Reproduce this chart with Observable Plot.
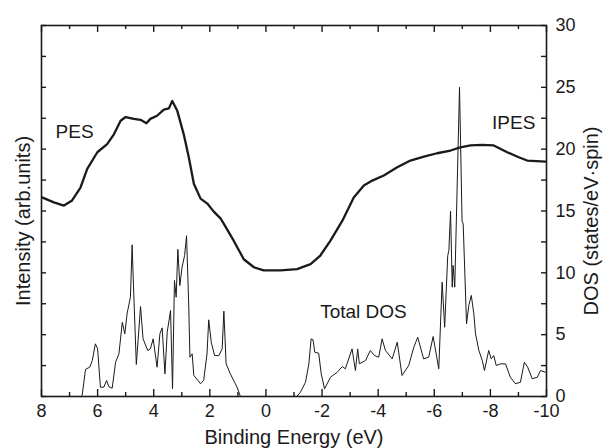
<!DOCTYPE html>
<html>
<head>
<meta charset="utf-8">
<script src="https://cdn.jsdelivr.net/npm/d3@7"></script>
<script src="https://cdn.jsdelivr.net/npm/@observablehq/plot@0.6"></script>
<style>
  html, body { margin: 0; padding: 0; background: #fff; }
  #chart { width: 603px; height: 448px; }
</style>
</head>
<body>
<div id="chart"></div>
<script>
// ---- data ----
const pesEnergy = [7.98, 7.56, 7.2, 6.91, 6.61, 6.37, 6.01, 5.66, 5.42, 5.18, 5.0, 4.71, 4.47, 4.26, 4.12, 3.88, 3.64, 3.46, 3.34, 3.16, 2.93, 2.75, 2.57, 2.33, 2.09, 1.86, 1.62, 1.5, 1.15, 0.79, 0.43, 0.08, -0.52, -1.11, -1.59, -1.94, -2.3, -2.72, -3.13, -3.49, -3.79, -4.2, -4.68, -5.15, -5.63, -6.1, -6.58, -6.93, -7.29, -7.7, -8.12, -8.6, -9.01, -9.31, -9.96];
const pesIntensity = [16.1, 15.7, 15.44, 15.85, 16.9, 18.4, 19.75, 20.4, 21.2, 22.3, 22.6, 22.45, 22.37, 22.1, 22.45, 22.7, 23.2, 23.3, 23.9, 23.1, 21.2, 19.35, 17.2, 16.0, 15.6, 14.95, 14.4, 13.96, 12.6, 11.1, 10.45, 10.2, 10.2, 10.3, 10.7, 11.4, 12.6, 14.2, 16.1, 17.06, 17.46, 17.87, 18.54, 19.08, 19.4, 19.67, 19.89, 20.15, 20.3, 20.35, 20.3, 19.75, 19.35, 19.08, 19.0];

const dosEnergy = [6.6, 6.55, 6.43, 6.28, 6.19, 6.08, 6.0, 5.9, 5.78, 5.68, 5.6, 5.48, 5.36, 5.24, 5.12, 5.03, 4.95, 4.83, 4.77, 4.72, 4.62, 4.47, 4.38, 4.21, 4.12, 4.02, 3.88, 3.78, 3.7, 3.6, 3.52, 3.4, 3.33, 3.26, 3.2, 3.14, 3.07, 2.99, 2.9, 2.83, 2.75, 2.71, 2.63, 2.57, 2.33, 2.22, 2.1, 2.04, 1.95, 1.83, 1.68, 1.56, 1.5, 1.42, 1.27, 1.03, 0.91,
  -1.1, -1.23, -1.41, -1.53, -1.61, -1.68, -1.74, -1.88, -1.97, -2.09, -2.3, -2.54, -2.72, -2.83, -3.07, -3.19, -3.27, -3.33, -3.55, -3.72, -3.87, -4.02, -4.14, -4.26, -4.5, -4.68, -4.85, -5.09, -5.27, -5.41, -5.62, -5.8, -5.96, -6.16, -6.28, -6.37, -6.48, -6.52, -6.58, -6.64, -6.67, -6.73, -6.9, -6.99, -7.03, -7.15, -7.23, -7.32, -7.41, -7.47, -7.59, -7.71, -7.79, -7.94, -8.03, -8.12, -8.21, -8.36, -8.54, -8.71, -8.89, -9.07, -9.21, -9.33, -9.49, -9.67, -9.79, -9.96];
const dosValue = [0, 0.1, 2.2, 2.37, 2.9, 4.26, 3.85, 0.75, 0.75, 1.3, 0.8, 0.67, 2.77, 3.45, 6.0, 5.07, 6.69, 8.03, 12.26, 8.84, 2.59, 7.28, 4.66, 3.72, 3.85, 4.66, 2.37, 5.07, 5.55, 1.83, 5.2, 6.95, 0.62, 9.38, 8.03, 11.9, 8.97, 10.45, 11.4, 13.0, 7.22, 3.18, 3.45, 1.7, 1.03, 1.3, 3.45, 6.2, 4.39, 3.31, 3.31, 3.85, 6.9, 2.65, 1.83, 0.75, 0,
  0, 0.35, 1.15, 2.64, 4.66, 4.58, 3.58, 3.5, 1.83, 0.62, 1.56, 1.96, 2.42, 2.24, 3.85, 2.1, 3.85, 2.64, 2.91, 3.72, 3.31, 3.18, 4.66, 3.72, 3.04, 4.39, 1.7, 2.51, 3.99, 4.79, 3.04, 3.18, 4.85, 2.24, 9.24, 5.6, 11.4, 11.8, 15.0, 8.84, 10.6, 8.84, 25.0, 14.2, 13.96, 5.88, 7.36, 8.17, 6.69, 5.07, 3.72, 2.91, 2.1, 3.72, 3.04, 3.31, 2.5, 2.64, 2.64, 1.56, 1.03, 1.15, 2.77, 2.37, 1.43, 1.56, 2.1, 1.96];

const xMajorTicks = [8, 6, 4, 2, 0, -2, -4, -6, -8, -10];
const xMinorTicks = [7, 5, 3, 1, -1, -3, -5, -7, -9];
const yLabelTicks = [0, 5, 10, 15, 20, 25, 30];
const yAllTicks = [0, 2.5, 5, 7.5, 10, 12.5, 15, 17.5, 20, 22.5, 25, 27.5, 30];

const xTitle = "Binding Energy (eV)";
const yLeftTitle = "Intensity (arb.units)";
const yRightTitle = "DOS (states/eV\u00B7spin)";
const annotations = ["PES", "IPES", "Total DOS"];

// ---- build tables ----
const pes = pesEnergy.map((e, i) => ({e, v: pesIntensity[i]}));
const dos = dosEnergy.map((e, i) => ({e, v: dosValue[i]}));

const W = 603, H = 448;
const mL = 41, mR = 57, mT = 25, mB = 52;
const innerW = W - mL - mR, innerH = H - mT - mB;
const xDom = [8, -10], yDom = [0, 30];
const ink = "#1a1a1a";
const font = "'Liberation Sans', Arial, Helvetica, sans-serif";

// tick lengths converted from pixels to data units
const pxY = (yDom[1] - yDom[0]) / innerH;
const pxX = (xDom[0] - xDom[1]) / innerW;
const majX = 7 * pxY, minX = 4 * pxY, tY = 5 * pxX;

const chart = Plot.plot({
  width: W, height: H,
  marginLeft: mL, marginRight: mR, marginTop: mT, marginBottom: mB,
  style: {fontFamily: font, fontSize: "18px", color: ink, background: "#fff", overflow: "visible"},
  x: {domain: xDom, label: null},
  y: {domain: yDom, label: null},
  marks: [
    // inward ticks
    Plot.ruleX(xMajorTicks, {x: d => d, y1: yDom[0], y2: yDom[0] + majX, stroke: ink, strokeWidth: 1.4}),
    Plot.ruleX(xMinorTicks, {x: d => d, y1: yDom[0], y2: yDom[0] + minX, stroke: ink, strokeWidth: 1.4}),
    Plot.ruleX(xMajorTicks, {x: d => d, y1: yDom[1] - majX, y2: yDom[1], stroke: ink, strokeWidth: 1.4}),
    Plot.ruleX(xMinorTicks, {x: d => d, y1: yDom[1] - minX, y2: yDom[1], stroke: ink, strokeWidth: 1.4}),
    Plot.ruleY(yAllTicks, {y: d => d, x1: xDom[0], x2: xDom[0] - tY, stroke: ink, strokeWidth: 1.4}),
    Plot.ruleY(yAllTicks, {y: d => d, x1: xDom[1] + tY, x2: xDom[1], stroke: ink, strokeWidth: 1.4}),
    // tick labels
    Plot.axisX({anchor: "bottom", ticks: xMajorTicks, tickSize: 0, tickPadding: 8, tickFormat: d => String(d), label: null, fontSize: 18}),
    Plot.axisY({anchor: "right", ticks: yLabelTicks, tickSize: 0, tickPadding: 9, tickFormat: d => String(d), label: null, fontSize: 18}),
    // data
    Plot.line(dos, {x: "e", y: "v", stroke: ink, strokeWidth: 1}),
    Plot.line(pes, {x: "e", y: "v", stroke: ink, strokeWidth: 2.3, strokeLinejoin: "round"}),
    // annotations
    Plot.text([annotations[0]], {x: 6.82, y: 21.4, text: d => d, fontSize: 19, fill: ink}),
    Plot.text([annotations[1]], {x: -8.83, y: 22.15, text: d => d, fontSize: 19, fill: ink}),
    Plot.text([annotations[2]], {x: -3.475, y: 6.87, text: d => d, fontSize: 19, fill: ink}),
    // axis titles
    Plot.text([xTitle], {frameAnchor: "bottom", dy: 41, textAnchor: "middle", lineAnchor: "middle", text: d => d, fontSize: 20, fill: ink}),
    Plot.text([yLeftTitle], {frameAnchor: "left", dx: -18, dy: 10, rotate: -90, textAnchor: "middle", lineAnchor: "middle", text: d => d, fontSize: 20, fill: ink}),
    Plot.text([yRightTitle], {frameAnchor: "right", dx: 45, dy: 10, rotate: -90, textAnchor: "middle", lineAnchor: "middle", text: d => d, fontSize: 20, fill: ink}),
    Plot.frame({stroke: ink, strokeWidth: 1.6})
  ]
});
document.getElementById("chart").appendChild(chart);
</script>
</body>
</html>
